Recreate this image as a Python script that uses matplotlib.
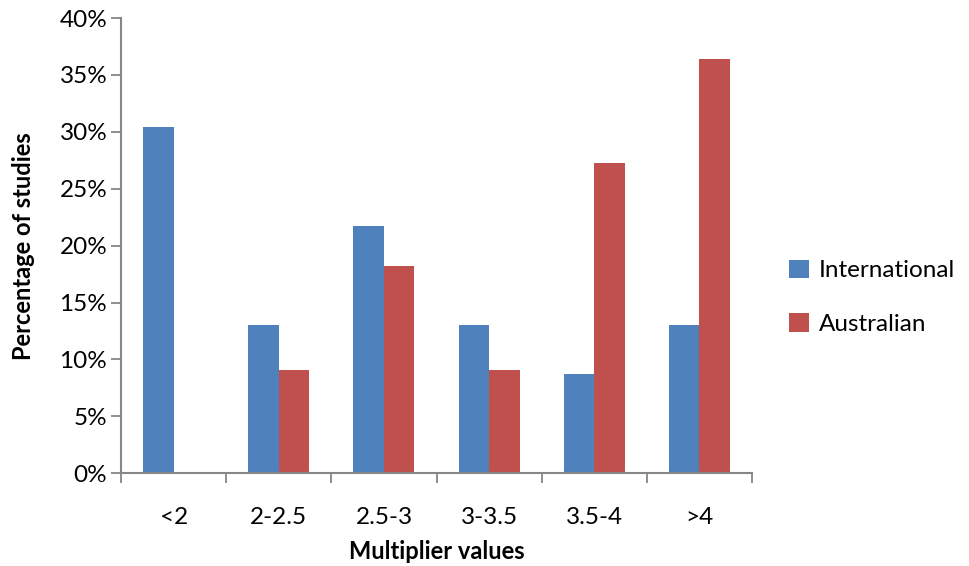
import matplotlib
matplotlib.use("Agg")
import matplotlib.pyplot as plt
import numpy as np
from matplotlib.ticker import FuncFormatter, FixedLocator

categories = ["<2", "2-2.5", "2.5-3", "3-3.5", "3.5-4", ">4"]
international = [30.4, 13.0, 21.7, 13.0, 8.7, 13.0]
australian = [0.0, 9.1, 18.2, 9.1, 27.3, 36.4]
series_names = ["International", "Australian"]
colors = ["#4F81BD", "#C0504D"]

plt.rcParams['font.family'] = ['Lato', 'DejaVu Sans']

fig = plt.figure(figsize=(9.69, 5.66), dpi=100)
ax = fig.add_axes([0.125, 0.164, 0.651, 0.804])

x = np.arange(len(categories))
w = 0.29
ax.bar(x - w/2, international, width=w, color=colors[0], label=series_names[0])
ax.bar(x + w/2, australian, width=w, color=colors[1], label=series_names[1])

ax.set_xlim(-0.5, len(categories) - 0.5)
ax.set_ylim(0, 40)
ax.set_yticks(np.arange(0, 41, 5))
ax.yaxis.set_major_formatter(FuncFormatter(lambda v, p: f"{int(v)}%"))

ax.set_xticks(x)
ax.set_xticklabels(categories)
ax.xaxis.set_minor_locator(FixedLocator(np.arange(-0.5, len(categories), 1.0)))
ax.tick_params(axis='x', which='major', length=0, pad=24, labelsize=17.5)
ax.tick_params(axis='x', which='minor', length=7, width=1.3, color='#868686', direction='out')
ax.tick_params(axis='y', length=7, width=1.3, color='#868686', direction='out', labelsize=17.5, pad=3)

for s in ['top', 'right']:
    ax.spines[s].set_visible(False)
for s in ['left', 'bottom']:
    ax.spines[s].set_color('#868686')
    ax.spines[s].set_linewidth(1.5)

ax.set_ylabel("Percentage of studies", fontsize=17, fontweight='bold', va='center')
ax.yaxis.set_label_coords(-0.155, 0.5)
ax.set_xlabel("Multiplier values", fontsize=17, fontweight='bold', va='center')
ax.xaxis.set_label_coords(0.5, -0.173)

leg = fig.legend(loc='center left', bbox_to_anchor=(0.792, 0.475), frameon=False,
                 fontsize=17.5, handlelength=0.8, handleheight=0.8, handletextpad=0.4,
                 labelspacing=1.3)

fig.savefig("out.png", dpi=100)
